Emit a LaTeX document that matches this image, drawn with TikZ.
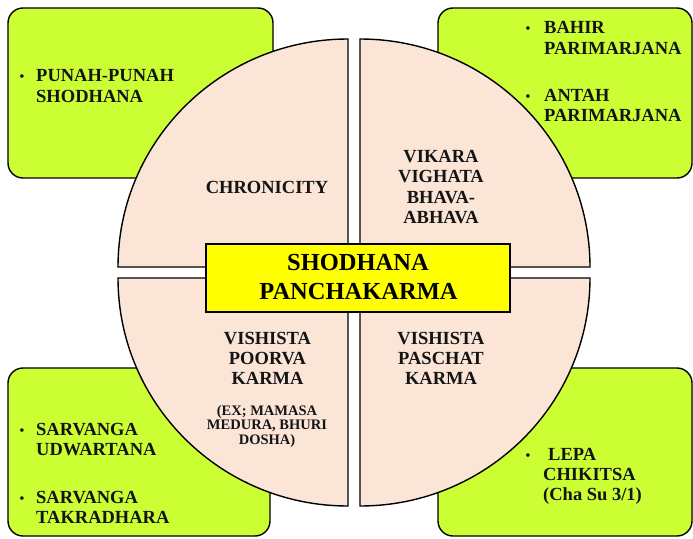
\documentclass[tikz,border=0pt]{standalone}
\usepackage{fontspec}
\setmainfont{Liberation Serif}
\usepackage{xcolor}
\definecolor{PanelGreen}{HTML}{CCFF33}
\definecolor{PetalPeach}{HTML}{FBE5D6}
\definecolor{CoreYellow}{HTML}{FFFF00}
\definecolor{TextInk}{HTML}{141414}
\tikzset{
  panel/.style={draw=black,fill=PanelGreen,line width=1.4pt,rounded corners=15pt},
  petal/.style={draw=black,fill=PetalPeach,line width=1.4pt},
  core/.style={draw=black,fill=CoreYellow,line width=1.4pt},
  itemtext/.style={anchor=base west,inner sep=0pt,text=TextInk,font=\bfseries\fontsize{18.5}{20.5}\selectfont},
  bulletmark/.style={anchor=base,inner sep=0pt,text=TextInk,font=\fontsize{15}{15}\selectfont},
  petaltext/.style={anchor=base,inner sep=0pt,text=TextInk,font=\bfseries\fontsize{18.5}{20.5}\selectfont},
  notetext/.style={anchor=base,inner sep=0pt,text=TextInk,font=\bfseries\fontsize{14.5}{14.5}\selectfont},
  coretext/.style={anchor=base,inner sep=0pt,text=black,font=\bfseries\fontsize{24.5}{28}\selectfont}
}
\begin{document}
\begin{tikzpicture}[x=1pt,y=-1pt]
  \useasboundingbox (0,0) rectangle (693,538);
  % corner panels
  \draw[panel] (8,8) rectangle (273,178);
  \draw[panel] (438,8) rectangle (692,178);
  \draw[panel] (8,368) rectangle (270,536);
  \draw[panel] (438,368) rectangle (692,536);
  % four quarters of the circle
  \draw[petal] (348,267) -- (348,39) arc[start angle=270,end angle=180,x radius=230,y radius=228] -- cycle;
  \draw[petal] (360,267) -- (360,39) arc[start angle=270,end angle=360,x radius=230,y radius=228] -- cycle;
  \draw[petal] (348,278) -- (348,506) arc[start angle=90,end angle=180,x radius=230,y radius=228] -- cycle;
  \draw[petal] (360,278) -- (360,506) arc[start angle=90,end angle=0,x radius=230,y radius=228] -- cycle;
  % centre box
  \draw[core] (206,244) rectangle (510,312);
  \node[coretext] (shodhana) at (358,270.7) {SHODHANA};
  \node[coretext] (pancha) at (358.5,299) {PANCHAKARMA};
  % quarter labels
  \node[petaltext] (chron) at (267,193) {CHRONICITY};
  \foreach \t [count=\i] in {VIKARA,VIGHATA,BHAVA-,ABHAVA}
    \node[petaltext] (vikara\i) at (441,141.5+20.5*\i) {\t};
  \foreach \t [count=\i] in {VISHISTA,POORVA,KARMA}
    \node[petaltext] (poorva\i) at (267.5,324+20*\i) {\t};
  \node[notetext] (note1) at (267,415) {(EX; MAMASA};
  \node[notetext] (note2) at (267,429.5) {MEDURA, BHURI};
  \node[notetext] (note3) at (267,444) {DOSHA)};
  \foreach \t [count=\i] in {VISHISTA,PASCHAT,KARMA}
    \node[petaltext] (paschat\i) at (441,324+20*\i) {\t};
  % panel lists
  \node[bulletmark] (b1) at (22,81) {\textbullet};
  \node[itemtext] (punah1) at (36,81) {PUNAH-PUNAH};
  \node[itemtext] (punah2) at (36,102) {SHODHANA};
  \node[bulletmark] (b2) at (528,33) {\textbullet};
  \node[itemtext] (bahir1) at (544,33) {BAHIR};
  \node[itemtext] (bahir2) at (544,54) {PARIMARJANA};
  \node[bulletmark] (b3) at (528,101) {\textbullet};
  \node[itemtext] (antah1) at (544,101) {ANTAH};
  \node[itemtext] (antah2) at (544,121) {PARIMARJANA};
  \node[bulletmark] (b4) at (22,435) {\textbullet};
  \node[itemtext] (udwar1) at (36,435) {SARVANGA};
  \node[itemtext] (udwar2) at (36,455) {UDWARTANA};
  \node[bulletmark] (b5) at (22,503) {\textbullet};
  \node[itemtext] (takra1) at (36,503) {SARVANGA};
  \node[itemtext] (takra2) at (36,523) {TAKRADHARA};
  \node[bulletmark] (b6) at (528,460) {\textbullet};
  \node[itemtext] (lepa1) at (548,460) {LEPA};
  \node[itemtext] (lepa2) at (543,480) {CHIKITSA};
  \node[itemtext] (lepa3) at (543,500) {(Cha Su 3/1)};
\end{tikzpicture}
\end{document}
